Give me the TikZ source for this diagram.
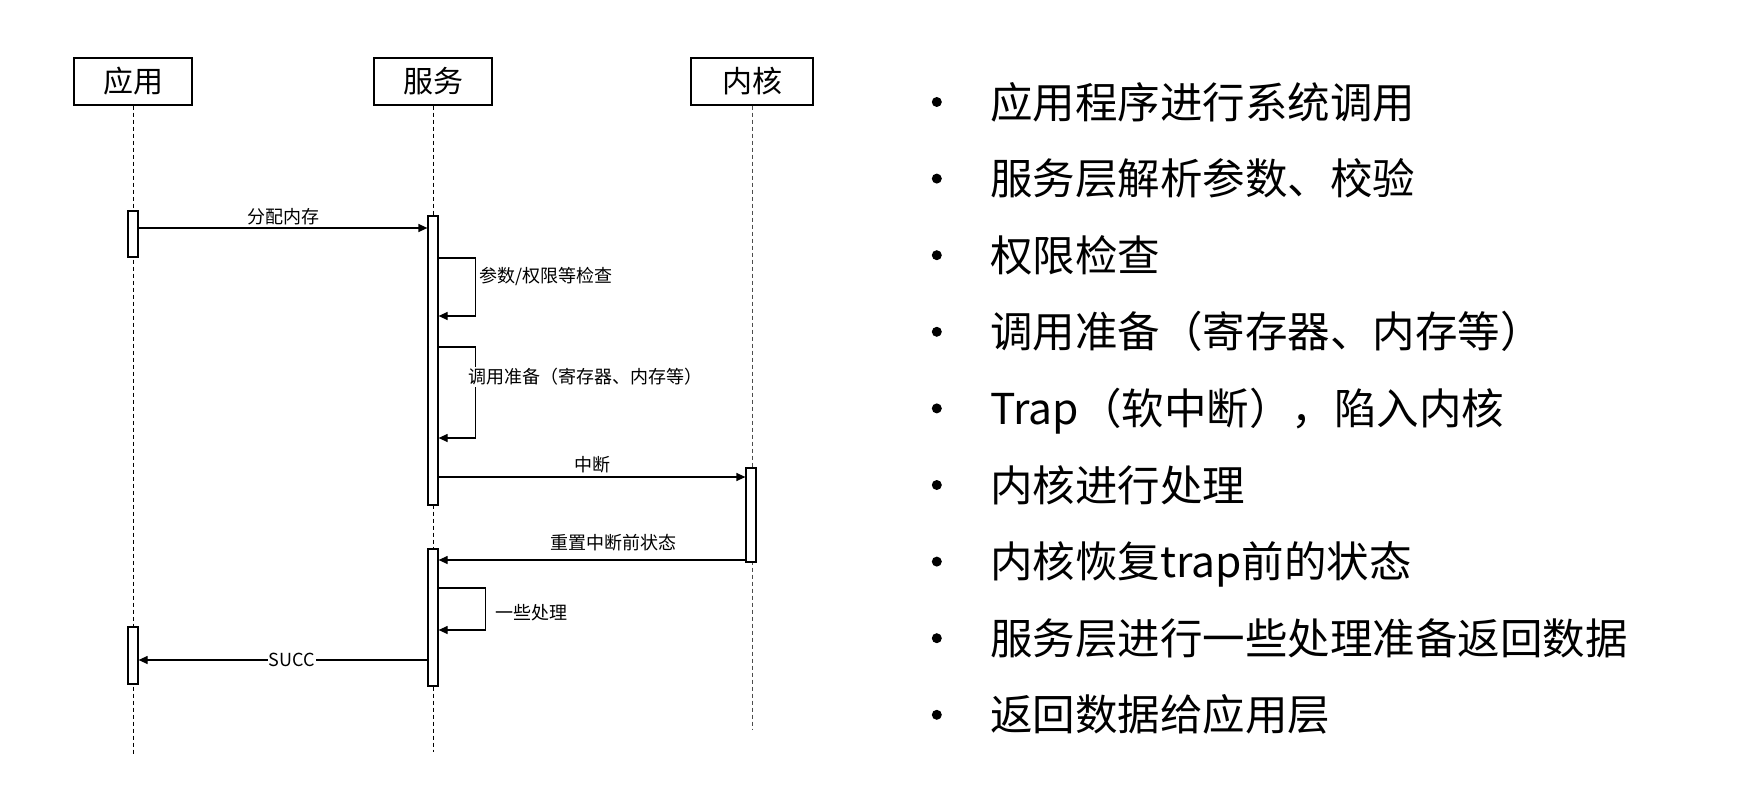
\documentclass[tikz,border=0pt]{standalone}
\usepackage{fontspec}
\setmainfont{Noto Sans CJK SC}
\usetikzlibrary{arrows.meta,positioning}

\tikzset{
	head/.style={draw, line width=1.2pt, fill=white, minimum width=118pt, minimum height=47pt, inner sep=0pt, font=\fontsize{30}{30}\selectfont},
	life/.style={line width=0.9pt, dash pattern=on 4pt off 3pt},
	act/.style={draw, line width=1.2pt, fill=white, minimum width=10pt, inner sep=0pt},
	msg/.style={line width=1.2pt, -{Triangle[length=9pt,width=8pt]}},
	lbl/.style={font=\fontsize{18}{18}\selectfont, inner sep=1pt},
	dot/.style={circle, fill=black, inner sep=0pt, minimum size=10pt},
	item/.style={anchor=west, inner sep=0pt, text height=37.4pt, text depth=5.1pt, font=\fontsize{42.5}{50}\selectfont}
}

\begin{document}
\begin{tikzpicture}[x=1pt, y=-1pt]
\useasboundingbox (0,0) rectangle (1739,794);

% lifelines
\node[head] (app) at (133,81.5) {应用};
\node[head] (srv) at (433,81.5) {服务};
\node[head, minimum width=122pt] (ker) at (752,81.5) {内核};
\coordinate (append) at (133,754);
\coordinate (srvend) at (433,752);
\coordinate (kerend) at (752,730);
\draw[life] (app.south) -- (append);
\draw[life] (srv.south) -- (srvend);
\draw[life, black!70] (ker.south) -- (kerend);

% activations
\node[act, minimum height=46pt] (app1) at (133,234) {};
\node[act, minimum height=289pt] (srv1) at (433,360.5) {};
\node[act, minimum height=94pt] (ker1) at (751,515) {};
\node[act, minimum height=137pt] (srv2) at (433,617.5) {};
\node[act, minimum height=57pt] (app2) at (133,655.5) {};

% message levels
\coordinate (m1) at (0,228);
\coordinate (m2) at (0,477);
\coordinate (m3) at (0,560);
\coordinate (m4) at (0,660);
\coordinate (l1a) at (0,258);
\coordinate (l1b) at (0,316);
\coordinate (l2a) at (0,347);
\coordinate (l2b) at (0,438);
\coordinate (l3a) at (0,588);
\coordinate (l3b) at (0,630);

% messages
\draw[msg] (app1.east |- m1) -- node[lbl, above=1pt] {分配内存} (srv1.west |- m1);
\draw[msg] (srv1.east |- l1a) -- ++(37,0) |- (srv1.east |- l1b);
\node[lbl, anchor=west] (check) at (478,276) {参数/权限等检查};
\draw[msg] (srv1.east |- l2a) -- ++(37,0) |- (srv1.east |- l2b);
\node[lbl, anchor=west, fill=white] (prep) at (467,377) {调用准备（寄存器、内存等）};
\draw[msg] (srv1.east |- m2) -- node[lbl, above=2pt] {中断} (ker1.west |- m2);
\draw[msg] (ker1.west |- m3) -- node[lbl, above=7pt, pos=0.43] {重置中断前状态} (srv2.east |- m3);
\draw[msg] (srv2.east |- l3a) -- ++(47,0) |- (srv2.east |- l3b);
\node[lbl, anchor=west] (misc) at (494,613) {一些处理};
\draw[msg] (srv2.west |- m4) -- node[lbl, fill=white, pos=0.47] {SUCC} (app2.east |- m4);

% bullet list
\node[item] (t1) at (990,102) {应用程序进行系统调用};
\node[item, below=76.6pt of t1.west, anchor=west] (t2) {服务层解析参数、校验};
\node[item, below=76.6pt of t2.west, anchor=west] (t3) {权限检查};
\node[item, below=76.6pt of t3.west, anchor=west] (t4) {调用准备（寄存器、内存等）};
\node[item, below=76.6pt of t4.west, anchor=west] (t5) {Trap（软中断），陷入内核};
\node[item, below=76.6pt of t5.west, anchor=west] (t6) {内核进行处理};
\node[item, below=76.6pt of t6.west, anchor=west] (t7) {内核恢复trap前的状态};
\node[item, below=76.6pt of t7.west, anchor=west] (t8) {服务层进行一些处理准备返回数据};
\node[item, below=76.6pt of t8.west, anchor=west] (t9) {返回数据给应用层};
\node[dot, left=48pt of t1.west] (b1) {};
\node[dot, left=48pt of t2.west] (b2) {};
\node[dot, left=48pt of t3.west] (b3) {};
\node[dot, left=48pt of t4.west] (b4) {};
\node[dot, left=48pt of t5.west] (b5) {};
\node[dot, left=48pt of t6.west] (b6) {};
\node[dot, left=48pt of t7.west] (b7) {};
\node[dot, left=48pt of t8.west] (b8) {};
\node[dot, left=48pt of t9.west] (b9) {};
\end{tikzpicture}
\end{document}
